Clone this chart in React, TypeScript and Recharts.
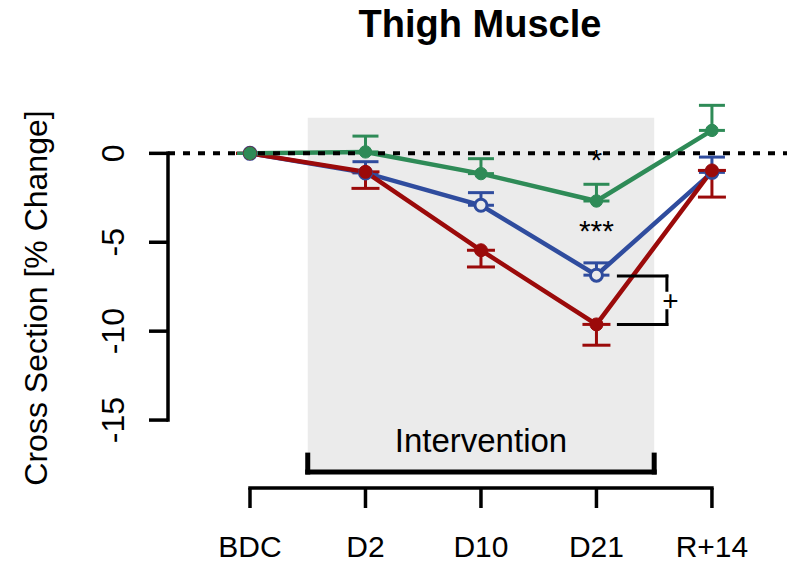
import React from 'react';
import {
  ComposedChart,
  Line,
  XAxis,
  YAxis,
  ErrorBar,
  ReferenceLine,
  ReferenceArea,
  ReferenceDot,
} from 'recharts';

// Thigh muscle cross section, % change from baseline (mean ± SE)
const timepoints = ['BDC', 'D2', 'D10', 'D21', 'R+14'];
const greenMean = [0, 0.08, -1.14, -2.68, 1.29];
const greenSE = [0, 0.89, 0.84, 0.94, 1.41];
const blueMean = [0, -1.1, -2.92, -6.85, -1.07];
const blueSE = [0, 0.63, 0.71, 0.69, 0.86];
const redMean = [0, -1.04, -5.45, -9.62, -0.96];
const redSE = [0, 0.93, 0.94, 1.17, 1.5];
const yTicks = [0, -5, -10, -15];

const GREEN = '#2E8B57';
const BLUE = '#2F4C9E';
const RED = '#9B0A0A';
const SHADE = '#EBEBEB';
const FONT = '"Liberation Sans", Arial, sans-serif';

// axis geometry (R style: axes only span the ticks)
const X_MIN = -0.71;
const X_MAX = 4.65;
const Y_MIN = -18.82;
const Y_MAX = 3;

// annotation anchors, in data units
const INTERVENTION = { from: 0.5, to: 3.5, top: 2, base: -17.92, tick: -16.97 };
const SIG = { from: 3.19, to: 3.61, top: -6.9, bottom: -9.62, gapTop: -7.7, gapBottom: -8.85 };

const data = timepoints.map((t, i) => ({
  idx: i,
  label: t,
  green: greenMean[i],
  greenErr: [0, greenSE[i]],
  blue: blueMean[i],
  blueErr: [0, blueSE[i]],
  red: redMean[i],
  redErr: [redSE[i], 0],
}));

function YTick(props: any) {
  const { x, y, payload } = props;
  return (
    <text x={x} y={y} transform={`rotate(-90 ${x} ${y})`} textAnchor="middle" fontSize={32} fontFamily={FONT} fill="#000">
      {payload.value}
    </text>
  );
}

function YLabel(props: any) {
  const vb = props.viewBox;
  const x = vb.x + 47;
  const y = vb.y + vb.height / 2 + 4;
  return (
    <text x={x} y={y} transform={`rotate(-90 ${x} ${y})`} textAnchor="middle" fontSize={32} fontFamily={FONT} fill="#000">
      Cross Section [% Change]
    </text>
  );
}

// open circle, filled with whatever background sits behind it
function OpenDot(props: any) {
  const { cx, cy, payload } = props;
  if (cx == null || cy == null) return null;
  const inside = payload.idx > INTERVENTION.from && payload.idx < INTERVENTION.to;
  return <circle cx={cx} cy={cy} r={6} fill={inside ? SHADE : '#FFFFFF'} stroke={BLUE} strokeWidth={3} />;
}

const textShape = (txt: string, size: number, baseline: string = 'alphabetic') => (p: any) => (
  <text x={p.cx} y={p.cy} textAnchor="middle" dominantBaseline={baseline} fontSize={size} fontFamily={FONT} fill="#000">
    {txt}
  </text>
);

export default function App() {
  const seg = (x1: number, y1: number, x2: number, y2: number, w: number, key: string) => (
    <ReferenceLine
      key={key}
      segment={[{ x: x1, y: y1 }, { x: x2, y: y2 }]}
      stroke="#000"
      strokeWidth={w}
      strokeLinecap="square"
      ifOverflow="visible"
    />
  );

  return (
    <div style={{ position: 'absolute', left: 0, top: 0, width: 787, height: 565, background: '#FFFFFF', fontFamily: FONT }}>
      <div
        style={{
          position: 'absolute',
          left: 180,
          width: 600,
          top: 5,
          textAlign: 'center',
          fontSize: 38,
          lineHeight: '38px',
          fontWeight: 700,
          color: '#000',
        }}
      >
        Thigh Muscle
      </div>
      <ComposedChart width={787} height={565} data={data} margin={{ top: 100, right: 0, left: 0, bottom: 0 }}>
        <ReferenceArea
          x1={INTERVENTION.from}
          x2={INTERVENTION.to}
          y1={INTERVENTION.base}
          y2={INTERVENTION.top}
          fill={SHADE}
          fillOpacity={1}
          stroke="none"
          ifOverflow="visible"
        />
        <XAxis
          type="number"
          dataKey="idx"
          domain={[X_MIN, X_MAX]}
          ticks={[0, 1, 2, 3, 4]}
          interval={0}
          allowDataOverflow
          height={77}
          axisLine={false}
          tickLine={{ stroke: '#000', strokeWidth: 3.5 }}
          tickSize={20}
          tickMargin={28}
          tickFormatter={(i: number) => timepoints[i]}
          tick={{ fontSize: 30, fill: '#000', fontFamily: FONT }}
        />
        <YAxis
          type="number"
          domain={[Y_MIN, Y_MAX]}
          ticks={yTicks}
          interval={0}
          allowDataOverflow
          width={168}
          axisLine={false}
          tickLine={{ stroke: '#000', strokeWidth: 3.5 }}
          tickSize={19}
          tickMargin={25}
          tick={<YTick />}
          label={<YLabel />}
        />

        {/* axes */}
        {seg(X_MIN, 0, X_MIN, -15, 3.5, 'yaxis')}
        {seg(0, Y_MIN, 4, Y_MIN, 3.5, 'xaxis')}

        {/* intervention bracket */}
        {seg(INTERVENTION.from, INTERVENTION.base, INTERVENTION.to, INTERVENTION.base, 5, 'ib')}
        {seg(INTERVENTION.from, INTERVENTION.base, INTERVENTION.from, INTERVENTION.tick, 5, 'il')}
        {seg(INTERVENTION.to, INTERVENTION.base, INTERVENTION.to, INTERVENTION.tick, 5, 'ir')}
        <ReferenceDot x={2} y={-16.8} r={0} ifOverflow="visible" shape={textShape('Intervention', 33)} />

        {/* one-sided error bars, drawn under the lines so the base cap hides behind the markers */}
        <Line dataKey="blue" stroke="none" dot={false} activeDot={false} isAnimationActive={false} legendType="none">
          <ErrorBar dataKey="blueErr" direction="y" width={13} stroke={BLUE} strokeWidth={3} />
        </Line>
        <Line dataKey="red" stroke="none" dot={false} activeDot={false} isAnimationActive={false} legendType="none">
          <ErrorBar dataKey="redErr" direction="y" width={14} stroke={RED} strokeWidth={3} />
        </Line>
        <Line dataKey="green" stroke="none" dot={false} activeDot={false} isAnimationActive={false} legendType="none">
          <ErrorBar dataKey="greenErr" direction="y" width={13} stroke={GREEN} strokeWidth={3} />
        </Line>

        <Line
          type="linear"
          dataKey="blue"
          stroke={BLUE}
          strokeWidth={4.5}
          dot={<OpenDot />}
          activeDot={false}
          isAnimationActive={false}
        />
        <Line
          type="linear"
          dataKey="red"
          stroke={RED}
          strokeWidth={4.5}
          dot={{ r: 6.5, fill: RED, stroke: RED, strokeWidth: 1 }}
          activeDot={false}
          isAnimationActive={false}
        />
        <Line
          type="linear"
          dataKey="green"
          stroke={GREEN}
          strokeWidth={4.5}
          dot={{ r: 6.2, fill: GREEN, stroke: GREEN, strokeWidth: 1 }}
          activeDot={false}
          isAnimationActive={false}
        />

        <ReferenceLine y={0} stroke="#000" strokeWidth={4} strokeDasharray="7 8" />

        {/* significance marks */}
        <ReferenceDot x={3} y={-0.94} r={0} ifOverflow="visible" shape={textShape('*', 30)} />
        <ReferenceDot x={3} y={-4.93} r={0} ifOverflow="visible" shape={textShape('***', 30)} />
        {seg(SIG.from, SIG.top, SIG.to, SIG.top, 3, 'st')}
        {seg(SIG.from, SIG.bottom, SIG.to, SIG.bottom, 3, 'sb')}
        {seg(SIG.to, SIG.top, SIG.to, SIG.gapTop, 3, 'sv1')}
        {seg(SIG.to, SIG.gapBottom, SIG.to, SIG.bottom, 3, 'sv2')}
        <ReferenceDot x={3.64} y={-8.27} r={0} ifOverflow="visible" shape={textShape('+', 28, 'central')} />
      </ComposedChart>
    </div>
  );
}
